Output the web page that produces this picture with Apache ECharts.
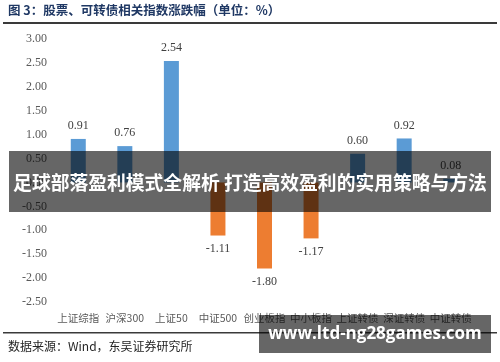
<!DOCTYPE html>
<html><head><meta charset="utf-8">
<script src="https://cdn.jsdelivr.net/npm/echarts@6/dist/echarts.min.js"></script>
<style>html,body{margin:0;padding:0;background:#fff}#c{width:500px;height:362px}</style>
</head><body><div id="c"></div>
<script>
const categories = ['上证综指','沪深300','上证50','中证500','创业板指','中小板指','上证转债','深证转债','中证转债'];
const changes = [0.91, 0.76, 2.54, -1.11, -1.80, -1.17, 0.60, 0.92, 0.08];
const yTicks = {min: -2.5, max: 3.0, interval: 0.5};
const titleText = '图 3：股票、可转债相关指数涨跌幅（单位：%）';
const sourceText = '数据来源：Wind，东吴证券研究所';
const bannerText = '足球部落盈利模式全解析 打造高效盈利的实用策略与方法';
const siteText = 'www.ltd-ng28games.com';

const pos = changes.map(v => v >= 0 ? v : '-');
const neg = changes.map(v => v < 0 ? v : '-');
const serif = 'Liberation Serif, Times New Roman, serif';
const cjk = '"Noto Sans CJK SC", sans-serif';

const chart = echarts.init(document.getElementById('c'));
chart.setOption({
  animation: false,
  grid: {left: 55, right: 26, top: 39, bottom: 60},
  xAxis: {
    type: 'category', data: categories, position: 'bottom',
    axisLine: {show: false, onZero: false},
    axisTick: {show: false},
    axisLabel: {show: true, color: '#595959', fontFamily: cjk, fontSize: 10.5, interval: 0, margin: 11}
  },
  yAxis: {
    type: 'value', min: yTicks.min, max: yTicks.max, interval: yTicks.interval,
    axisLine: {show: false}, axisTick: {show: false}, splitLine: {show: false},
    axisLabel: {color: '#595959', fontFamily: serif, fontSize: 12, margin: 8,
      formatter: v => v.toFixed(2)}
  },
  series: [
    {type: 'bar', stack: 's', data: pos, barWidth: 15,
     itemStyle: {color: '#5b9bd5'},
     label: {show: true, position: 'top', distance: 7, color: '#404040', fontFamily: serif, fontSize: 12,
       formatter: p => Number(p.value).toFixed(2)}},
    {type: 'bar', stack: 's', data: neg, barWidth: 15,
     itemStyle: {color: '#ed7d31'},
     label: {show: true, position: 'bottom', distance: 7, color: '#404040', fontFamily: serif, fontSize: 12,
       formatter: p => Number(p.value).toFixed(2)}}
  ],
  graphic: [
    {type: 'text', left: 8, top: 4, style: {text: titleText, fill: '#1f3864', font: 'bold 12.5px ' + cjk}},
    {type: 'rect', shape: {x: 3, y: 22, width: 494, height: 2}, style: {fill: '#3a3a3a'}},
    {type: 'rect', shape: {x: 3, y: 332, width: 494, height: 1.5}, style: {fill: '#3a3a3a'}},
    {type: 'text', left: 8, top: 340, style: {text: sourceText, fill: '#262626', font: '12px ' + cjk}},
    {type: 'rect', shape: {x: 9, y: 151, width: 482, height: 61}, style: {fill: 'rgba(0,0,0,0.6)'}, z: 100},
    {type: 'text', x: 250, y: 183, z: 101, style: {text: bannerText, fill: '#fff', font: 'bold 18.8px ' + cjk, align: 'center', verticalAlign: 'middle'}},
    {type: 'rect', shape: {x: 259, y: 315, width: 232, height: 38}, style: {fill: 'rgba(0,0,0,0.6)'}, z: 100},
    {type: 'text', x: 375, y: 334, z: 101, style: {text: siteText, fill: '#fff', font: 'bold 17px "Open Sans", sans-serif', align: 'center', verticalAlign: 'middle'}}
  ]
});
</script></body></html>
